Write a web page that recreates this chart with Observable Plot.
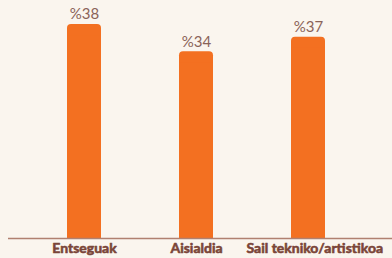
<!DOCTYPE html>
<html>
<head>
<meta charset="utf-8">
<script src="https://cdn.jsdelivr.net/npm/d3@7"></script>
<script src="https://cdn.jsdelivr.net/npm/@observablehq/plot@0.6"></script>
<style>
  html, body { margin: 0; padding: 0; background: #faf5ee; overflow: hidden; }
  #chart svg { display: block; }
</style>
</head>
<body>
<div id="chart"></div>
<script>
const categories = ["Entseguak", "Aisialdia", "Sail tekniko/artistikoa"];
const values = [38.5, 33.6, 36.2];
const valueLabels = ["%38", "%34", "%37"];

const data = categories.map((c, i) => ({cat: c, value: values[i], label: valueLabels[i]}));

const orange = "#f37021";
const brown = "#7a4538";

const chart = Plot.plot({
  width: 392,
  height: 258,
  marginLeft: 8,
  marginRight: 0,
  marginTop: 0,
  marginBottom: 20,
  style: {background: "#faf5ee", overflow: "visible"},
  x: {domain: categories, range: [28, 364], paddingInner: 0.7, paddingOuter: 0.35, axis: null},
  y: {domain: [0, 42.82], axis: null},
  marks: [
    Plot.barY(data, {x: "cat", y: "value", fill: orange, rx: 4}),
    Plot.barY(data, {x: "cat", y: d => d.value - 2, fill: orange}),
    Plot.ruleY([0], {stroke: "#b08070", strokeWidth: 1.5}),
    Plot.text(data, {x: "cat", y: "value", text: "label", dy: -10, fill: "#8a6358", fontSize: 15, fontFamily: "Lato", textAnchor: "middle"}),
    Plot.text(data.slice(0, 2), {x: "cat", frameAnchor: "bottom", text: "cat", dy: 14, fill: brown, stroke: brown, strokeWidth: 0.6, fontSize: 14, fontWeight: "bold", fontFamily: "Lato"}),
    Plot.text(data.slice(2), {x: "cat", frameAnchor: "bottom", text: "cat", dy: 14, dx: -62, textAnchor: "start", fill: brown, stroke: brown, strokeWidth: 0.6, fontSize: 14, fontWeight: "bold", fontFamily: "Lato"})
  ]
});
document.getElementById("chart").appendChild(chart);
</script>
</body>
</html>
